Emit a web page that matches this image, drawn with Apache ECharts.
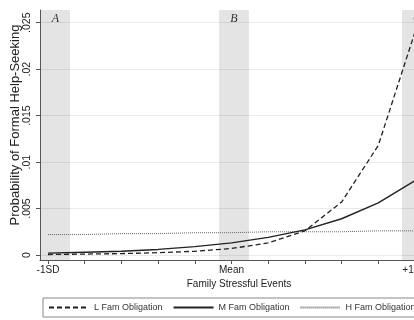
<!DOCTYPE html>
<html><head><meta charset="utf-8">
<script src="https://cdn.jsdelivr.net/npm/echarts@6/dist/echarts.min.js"></script>
<style>html,body{margin:0;padding:0;background:#fff;overflow:hidden;width:414px;height:320px}#c{width:440px;height:320px}</style>
</head><body><div id="c"></div>
<script>
const xValues = [-1, -0.8, -0.6, -0.4, -0.2, 0, 0.2, 0.4, 0.6, 0.8, 1];
const lowObligation  = [0.00005, 0.0001, 0.00015, 0.00025, 0.0004, 0.0007, 0.0013, 0.0026, 0.0057, 0.0118, 0.024];
const midObligation  = [0.0002, 0.0003, 0.0004, 0.0006, 0.0009, 0.0013, 0.0019, 0.0027, 0.0039, 0.0056, 0.008];
const highObligation = [0.0022, 0.0022, 0.0023, 0.0023, 0.0024, 0.0024, 0.0025, 0.0025, 0.0025, 0.0026, 0.0026];
const seriesNames = ['L Fam Obligation', 'M Fam Obligation', 'H Fam Obligation'];
const xTickValues = [-1, -0.8, -0.6, -0.4, -0.2, 0, 0.2, 0.4, 0.6, 0.8, 1];
const xLabelValues = [-1, 0, 1];
const xLabelTexts = ['-1SD', 'Mean', '+1SD'];
const yTickValues = [0, 0.005, 0.01, 0.015, 0.02, 0.025];
const yTickLabels = ['0', '.005', '.01', '.015', '.02', '.025'];
const bandNames = ['A', 'B', 'C'];
const bandStart = [-1.038, -0.068, 0.929];
const bandEnd = [-0.88, 0.095, 1.093];
const xAxisTitle = 'Family Stressful Events';
const yAxisTitle = 'Probability of Formal Help-Seeking';

function pairs(ys) { return xValues.map((x, i) => [x, ys[i]]); }
function lookup(vals, texts, v) {
  for (let i = 0; i < vals.length; i++) if (Math.abs(vals[i] - v) < 1e-9) return texts[i];
  return '';
}
const font = 'Liberation Sans, Arial, sans-serif';
const chart = echarts.init(document.getElementById('c'), null, {renderer: 'canvas', width: 440, height: 320});
chart.setOption({
  animation: false,
  backgroundColor: '#fff',
  grid: {left: 40, top: 10, right: 2, bottom: 60, containLabel: false, outerBoundsMode: 'none'},
  xAxis: {
    type: 'value', min: -1.0436, max: 1.1253,
    name: xAxisTitle, nameLocation: 'middle', nameGap: 19, nameMoveOverlap: false,
    nameTextStyle: {fontSize: 10, color: '#222', fontFamily: font},
    axisLine: {show: true, onZero: false, lineStyle: {color: '#555', width: 1}},
    axisTick: {show: true, length: 4, customValues: xTickValues, lineStyle: {color: '#555'}},
    axisLabel: {customValues: xLabelValues, margin: 5, fontSize: 10, color: '#222', fontFamily: font,
      formatter: v => lookup(xLabelValues, xLabelTexts, v)},
    splitLine: {show: false}
  },
  yAxis: {
    type: 'value', min: -0.000538, max: 0.02637,
    name: yAxisTitle, nameLocation: 'middle', nameGap: 18, nameMoveOverlap: false,
    nameTextStyle: {fontSize: 13, color: '#222', fontFamily: font, padding: [0, 0, 0, 20]},
    axisLine: {show: true, onZero: false, lineStyle: {color: '#555', width: 1}},
    axisTick: {show: true, length: 4, customValues: yTickValues, lineStyle: {color: '#555'}},
    axisLabel: {customValues: yTickValues, rotate: 90, margin: 7, fontSize: 10.5, color: '#222', fontFamily: font,
      formatter: v => lookup(yTickValues, yTickLabels, v)},
    splitLine: {show: true, lineStyle: {color: '#e4ecee', width: 1}}
  },
  legend: {
    data: seriesNames, left: 43, top: 298, orient: 'horizontal',
    itemWidth: 40, itemHeight: 10, itemGap: 10,
    padding: [5, 5], borderColor: '#888', borderWidth: 1,
    itemStyle: {opacity: 0},
    textStyle: {fontSize: 9, color: '#333', fontFamily: font}
  },
  series: [
    {
      name: 'bands', type: 'line', data: [], z: 1, silent: true,
      markArea: {
        silent: true,
        itemStyle: {color: 'rgba(0,0,0,0.105)'},
        label: {show: true, position: 'insideTop', distance: 3, fontStyle: 'italic', fontSize: 12,
          fontFamily: 'Liberation Serif, Times New Roman, serif', color: '#333'},
        data: bandNames.map((n, i) => [{name: n, xAxis: bandStart[i]}, {xAxis: bandEnd[i]}])
      }
    },
    {name: seriesNames[0], type: 'line', data: pairs(lowObligation), symbol: 'none', z: 3,
      itemStyle: {color: '#222', opacity: 0}, lineStyle: {color: '#222', width: 1.3, type: [5, 3]}},
    {name: seriesNames[1], type: 'line', data: pairs(midObligation), symbol: 'none', z: 3,
      itemStyle: {color: '#222', opacity: 0}, lineStyle: {color: '#222', width: 1.4, type: 'solid'}},
    {name: seriesNames[2], type: 'line', data: pairs(highObligation), symbol: 'none', z: 2,
      itemStyle: {color: '#666', opacity: 0}, lineStyle: {color: '#666', width: 1, type: [1, 1]}}
  ]
});
</script></body></html>
